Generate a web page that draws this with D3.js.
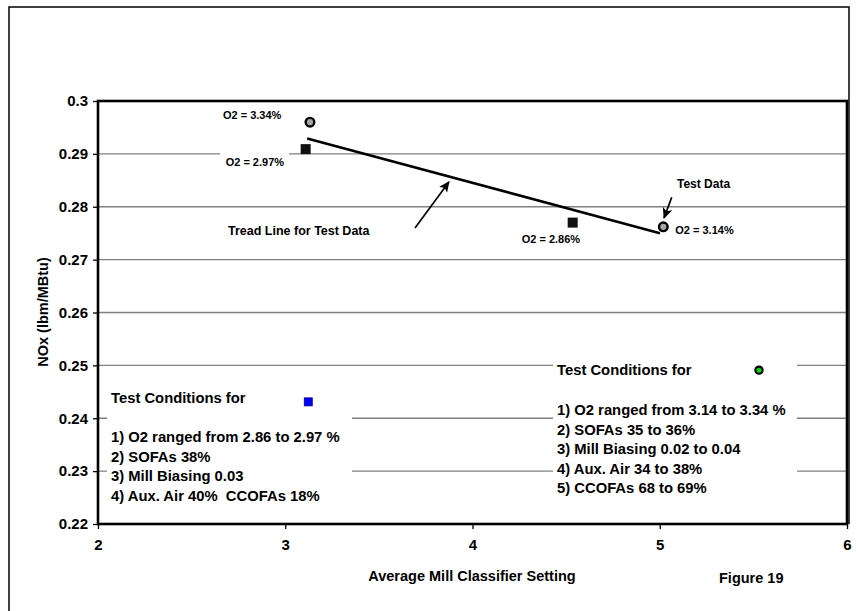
<!DOCTYPE html>
<html><head><meta charset="utf-8">
<script src="https://cdn.jsdelivr.net/npm/d3@7"></script>
<style>
html,body{margin:0;padding:0;background:#fff;}
svg{display:block;font-family:"Liberation Sans",Arial,sans-serif;font-weight:bold;}
text{white-space:pre;}
</style></head>
<body>
<svg id="c" width="860" height="611"></svg>
<script>
// ---- data ----
const xTickValues = [2, 3, 4, 5, 6];
const xTickLabels = ["2", "3", "4", "5", "6"];
const yTickValues = [0.22, 0.23, 0.24, 0.25, 0.26, 0.27, 0.28, 0.29, 0.30];
const yTickLabels = ["0.22", "0.23", "0.24", "0.25", "0.26", "0.27", "0.28", "0.29", "0.3"];
// Test series 1 (square markers, O2 2.86-2.97 %)
const squareX = [3.109, 4.535];
const squareY = [0.2909, 0.2770];
const squareLabels = ["O2 = 2.97%", "O2 = 2.86%"];
// Test series 2 (circle markers, O2 3.14-3.34 %)
const circleX = [3.132, 5.019];
const circleY = [0.2960, 0.2762];
const circleLabels = ["O2 = 3.34%", "O2 = 3.14%"];
// Trend line for test data
const trendX = [3.117, 5.001];
const trendY = [0.2929, 0.2750];
// Legend-style markers
const blueSquareX = [3.123], blueSquareY = [0.2431];
const greenCircleX = [5.53], greenCircleY = [0.2491];
// annotation arrows (tail -> head) in data units
const arrowTailX = [3.693, 5.064], arrowTailY = [0.2760, 0.2818];
const arrowHeadX = [3.874, 5.023], arrowHeadY = [0.2847, 0.2779];
const condLeft = ["1) O2 ranged from 2.86 to 2.97 %", "2) SOFAs 38%", "3) Mill Biasing 0.03", "4) Aux. Air 40%  CCOFAs 18%"];
const condRight = ["1) O2 ranged from 3.14 to 3.34 %", "2) SOFAs 35 to 36%", "3) Mill Biasing 0.02 to 0.04", "4) Aux. Air 34 to 38%", "5) CCOFAs 68 to 69%"];

// ---- drawing ----
const svg = d3.select("#c");
const x = d3.scaleLinear().domain([2, 6]).range([98, 847]);
const y = d3.scaleLinear().domain([0.22, 0.30]).range([524, 101]);

// outer frame
svg.append("path").attr("d", "M9,611 L9,7 L849,7 L849,524")
  .attr("fill", "none").attr("stroke", "#000").attr("stroke-width", 1.5);

// gridlines
svg.append("g").selectAll("line").data(yTickValues.slice(1, -1)).join("line")
  .attr("x1", x(2)).attr("x2", x(6)).attr("y1", d => y(d)).attr("y2", d => y(d))
  .attr("stroke", "#808080").attr("stroke-width", 1.3);

// white text boxes that hide gridlines
const boxes = [[107, 376, 245, 134], [553, 352, 244, 150], [220, 148, 69, 20]];
svg.append("g").selectAll("rect").data(boxes).join("rect")
  .attr("x", d => d[0]).attr("y", d => d[1]).attr("width", d => d[2]).attr("height", d => d[3])
  .attr("fill", "#fff");

// plot border
svg.append("rect").attr("x", x(2)).attr("y", y(0.30)).attr("width", x(6) - x(2)).attr("height", y(0.22) - y(0.30))
  .attr("fill", "none").attr("stroke", "#000").attr("stroke-width", 2.6);

// axes
const yAxis = d3.axisLeft(y).tickValues(yTickValues).tickSize(5).tickPadding(5)
  .tickFormat((d, i) => yTickLabels[i]);
const gy = svg.append("g").attr("transform", `translate(${x(2)},0)`).call(yAxis);
const xAxis = d3.axisBottom(x).tickValues(xTickValues).tickSize(5).tickPadding(10)
  .tickFormat((d, i) => xTickLabels[i]);
const gx = svg.append("g").attr("transform", `translate(0,${y(0.22)})`).call(xAxis);
[gx, gy].forEach(g => {
  g.select(".domain").remove();
  g.selectAll(".tick line").attr("stroke", "#000").attr("stroke-width", 1.3);
  g.selectAll(".tick text").attr("fill", "#000").style("font-size", "15px")
    .style("font-family", '"Liberation Sans",Arial,sans-serif').style("font-weight", "bold");
});

// axis titles
svg.append("text").attr("x", 472).attr("y", 581).attr("text-anchor", "middle")
  .style("font-size", "14.5px").text("Average Mill Classifier Setting");
svg.append("text").attr("transform", "translate(48,312) rotate(-90)").attr("text-anchor", "middle")
  .style("font-size", "14.5px").text("NOx (lbm/MBtu)");
svg.append("text").attr("x", 719).attr("y", 583).style("font-size", "14.5px").text("Figure 19");

// trend line
svg.append("path").datum(trendX.map((d, i) => [d, trendY[i]]))
  .attr("d", d3.line().x(d => x(d[0])).y(d => y(d[1])))
  .attr("fill", "none").attr("stroke", "#000").attr("stroke-width", 2.6);

// arrows
const defs = svg.append("defs");
defs.append("marker").attr("id", "ah").attr("viewBox", "0 0 10 10").attr("refX", 9).attr("refY", 5)
  .attr("markerWidth", 11).attr("markerHeight", 11).attr("markerUnits", "userSpaceOnUse").attr("orient", "auto")
  .append("path").attr("d", "M0,0.5 L10,5 L0,9.5 L2.5,5 Z").attr("fill", "#000");
svg.append("g").selectAll("line").data(arrowTailX).join("line")
  .attr("x1", (d, i) => x(d)).attr("y1", (d, i) => y(arrowTailY[i]))
  .attr("x2", (d, i) => x(arrowHeadX[i])).attr("y2", (d, i) => y(arrowHeadY[i]))
  .attr("stroke", "#000").attr("stroke-width", 1.7).attr("marker-end", "url(#ah)");

// squares
svg.append("g").selectAll("rect").data(squareX).join("rect")
  .attr("x", (d) => x(d) - 5).attr("y", (d, i) => y(squareY[i]) - 5)
  .attr("width", 10).attr("height", 10).attr("fill", "#111");
// circles
svg.append("g").selectAll("circle").data(circleX).join("circle")
  .attr("cx", d => x(d)).attr("cy", (d, i) => y(circleY[i])).attr("r", 4.3)
  .attr("fill", "#a6a6a6").attr("stroke", "#000").attr("stroke-width", 2.4);
// blue square marker
svg.append("g").selectAll("rect").data(blueSquareX).join("rect")
  .attr("x", d => x(d) - 4).attr("y", (d, i) => y(blueSquareY[i]) - 4)
  .attr("width", 8).attr("height", 8).attr("fill", "#0000ff").attr("stroke", "#000080").attr("stroke-width", 0.8);
// green circle marker
svg.append("g").selectAll("circle").data(greenCircleX).join("circle")
  .attr("cx", d => x(d)).attr("cy", (d, i) => y(greenCircleY[i])).attr("r", 3.6)
  .attr("fill", "#00dd00").attr("stroke", "#000").attr("stroke-width", 2.2);

// point labels
const small = "11px";
svg.append("text").attr("x", x(circleX[0]) - 87).attr("y", y(circleY[0]) - 3).style("font-size", small).text(circleLabels[0]);
svg.append("text").attr("x", x(squareX[0]) - 80).attr("y", y(squareY[0]) + 17).style("font-size", small).text(squareLabels[0]);
svg.append("text").attr("x", x(squareX[1]) - 51).attr("y", y(squareY[1]) + 20).style("font-size", small).text(squareLabels[1]);
svg.append("text").attr("x", x(circleX[1]) + 12).attr("y", y(circleY[1]) + 7).style("font-size", small).text(circleLabels[1]);
svg.append("text").attr("x", 677).attr("y", 188).style("font-size", "12px").text("Test Data");
svg.append("text").attr("x", 228).attr("y", 235).style("font-size", "12.5px").text("Tread Line for Test Data");

// test condition blocks
const cf = "14.8px";
svg.append("text").attr("x", 111).attr("y", 403).style("font-size", cf).text("Test Conditions for");
svg.append("g").selectAll("text").data(condLeft).join("text")
  .attr("x", 111).attr("y", (d, i) => 442 + i * 19.6).style("font-size", cf).text(d => d);
svg.append("text").attr("x", 557).attr("y", 375).style("font-size", cf).text("Test Conditions for");
svg.append("g").selectAll("text").data(condRight).join("text")
  .attr("x", 557).attr("y", (d, i) => 415 + i * 19.5).style("font-size", cf).text(d => d);
</script>
</body></html>
